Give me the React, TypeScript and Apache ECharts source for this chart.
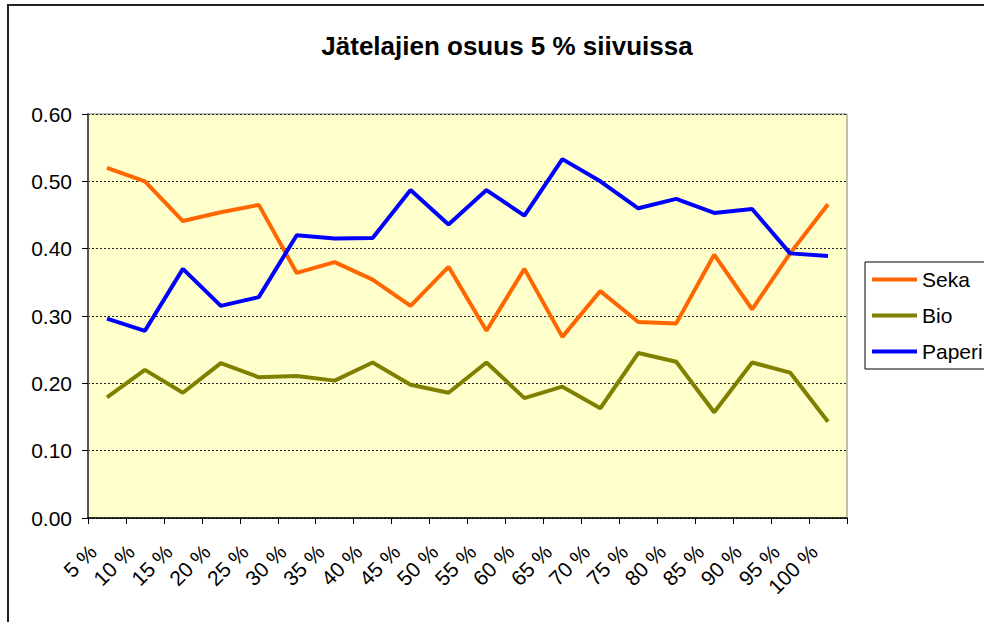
import React, { useEffect, useRef } from "react";
import * as echarts from "echarts";

const categories = ["5 %", "10 %", "15 %", "20 %", "25 %", "30 %", "35 %", "40 %", "45 %", "50 %", "55 %", "60 %", "65 %", "70 %", "75 %", "80 %", "85 %", "90 %", "95 %", "100 %"];
const seka = [0.520, 0.500, 0.441, 0.454, 0.465, 0.364, 0.380, 0.354, 0.315, 0.373, 0.278, 0.370, 0.269, 0.337, 0.291, 0.289, 0.391, 0.310, 0.393, 0.466];
const bio = [0.179, 0.220, 0.186, 0.230, 0.209, 0.211, 0.204, 0.231, 0.198, 0.186, 0.231, 0.178, 0.195, 0.163, 0.245, 0.232, 0.157, 0.231, 0.216, 0.143];
const paperi = [0.296, 0.278, 0.370, 0.315, 0.328, 0.420, 0.415, 0.416, 0.487, 0.436, 0.487, 0.449, 0.533, 0.500, 0.460, 0.474, 0.453, 0.459, 0.393, 0.389];
const yTicks = { min: 0, max: 0.6, interval: 0.1 };
const title = "Jätelajien osuus 5 % siivuissa";

const FONT = "'Liberation Sans', Arial, sans-serif";

export default function App() {
  const ref = useRef<HTMLDivElement>(null);
  useEffect(() => {
    document.body.style.margin = "0";
    const chart = echarts.init(ref.current!, null, { renderer: "svg" });
    const mk = (name: string, data: number[], color: string) => ({
      name,
      type: "line",
      data,
      symbol: "none",
      color,
      lineStyle: { width: 4, color },
    });
    chart.setOption({
      animation: false,
      backgroundColor: "#ffffff",
      textStyle: { fontFamily: FONT },
      title: {
        text: title,
        left: 502,
        top: 28,
        textAlign: "center",
        textStyle: { fontSize: 26, fontWeight: "bold", color: "#000", fontFamily: FONT },
      },
      grid: {
        left: 88,
        top: 114,
        right: 137,
        bottom: 104,
        show: true,
        backgroundColor: "#FFFFCC",
        borderColor: "#808080",
        borderWidth: 1,
        outerBoundsMode: "none",
      },
      legend: {
        orient: "vertical",
        left: 865,
        top: 262,
        icon: "rect",
        itemWidth: 45,
        itemHeight: 4,
        itemGap: 15,
        padding: [7, 20, 7, 7],
        borderColor: "#000",
        borderWidth: 1,
        backgroundColor: "#ffffff",
        textStyle: { fontSize: 21, color: "#000", fontFamily: FONT },
        data: ["Seka", "Bio", "Paperi"],
      },
      xAxis: {
        type: "category",
        data: categories,
        boundaryGap: true,
        axisLine: { lineStyle: { color: "#000", width: 1.5 } },
        axisTick: { show: true, length: 6, lineStyle: { color: "#000" } },
        axisLabel: {
          rotate: 45,
          margin: 16,
          padding: [0, 20, 0, 0],
          fontSize: 21,
          color: "#000",
          fontFamily: FONT,
          interval: 0,
        },
      },
      yAxis: {
        type: "value",
        min: yTicks.min,
        max: yTicks.max,
        interval: yTicks.interval,
        axisLine: { show: true, lineStyle: { color: "#555", width: 2 } },
        axisTick: { show: true, length: 6, lineStyle: { color: "#000" } },
        axisLabel: {
          margin: 16,
          fontSize: 21,
          color: "#000",
          fontFamily: FONT,
          formatter: (v: number) => v.toFixed(2),
        },
        splitLine: { show: true, lineStyle: { color: "#222", type: [2, 2], width: 1 } },
      },
      graphic: [
        { type: "line", shape: { x1: 7, y1: 5, x2: 984, y2: 5 }, style: { stroke: "#222", lineWidth: 2 } },
        { type: "line", shape: { x1: 8, y1: 5, x2: 8, y2: 622 }, style: { stroke: "#222", lineWidth: 2 } },
      ],
      series: [
        mk("Seka", seka, "#FF6600"),
        mk("Bio", bio, "#808000"),
        mk("Paperi", paperi, "#0000FF"),
      ],
    });
    return () => chart.dispose();
  }, []);
  return <div ref={ref} style={{ width: 984, height: 622, position: "absolute", left: 0, top: 0 }} />;
}
